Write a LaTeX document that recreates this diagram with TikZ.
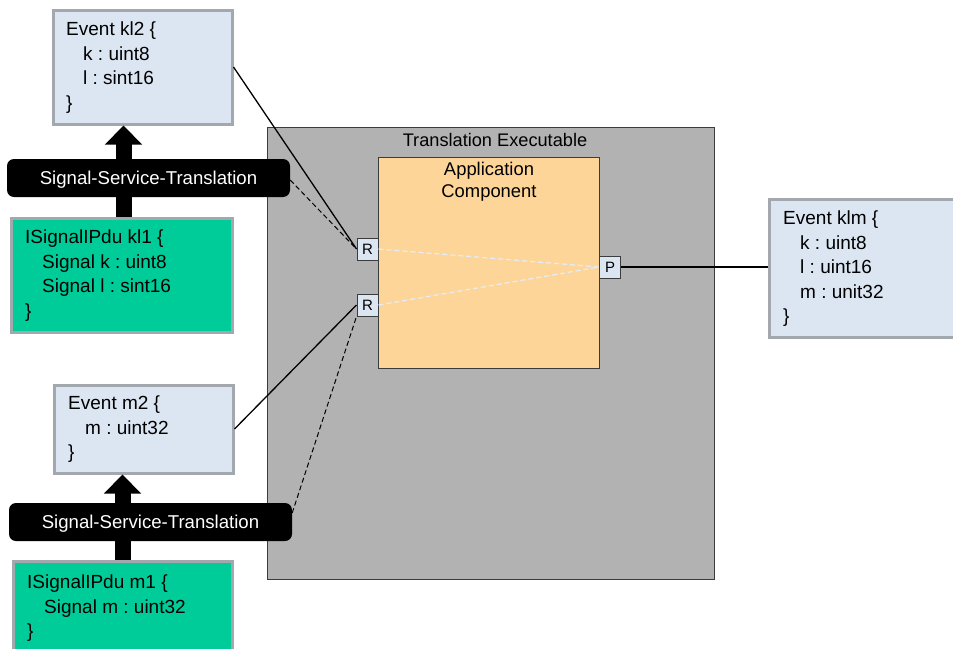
\documentclass[tikz,border=0pt]{standalone}
\usepackage{fontspec}
\setmainfont{Liberation Sans}
\usetikzlibrary{arrows.meta}
\definecolor{evfill}{HTML}{DCE6F2}
\definecolor{evborder}{HTML}{A3A8AE}
\definecolor{pdufill}{HTML}{00CC99}
\definecolor{exfill}{HTML}{B2B2B2}
\definecolor{exborder}{HTML}{3C3C3C}
\definecolor{appfill}{HTML}{FDD598}
\definecolor{wdash}{HTML}{E6EDF6}
\tikzset{
  evbox/.style={draw=evborder, line width=3pt, fill=evfill, anchor=north west, inner sep=0pt},
  pdubox/.style={draw=evborder, line width=3pt, fill=pdufill, anchor=north west, inner sep=0pt},
  txt/.style={anchor=north west, inner sep=0pt, align=left, font=\fontsize{19}{24.5}\selectfont},
  bar/.style={fill=black, rounded corners=7pt, text=white, minimum width=283pt, minimum height=38pt, inner sep=0pt, text height=13.3pt, text depth=0pt, font=\fontsize{18.6}{22}\selectfont},
  port/.style={draw=exborder, line width=1pt, fill=evfill, minimum width=21pt, minimum height=22pt, inner sep=0pt, font=\fontsize{15}{15}\selectfont},
  conn/.style={line width=1.3pt, black},
  dconn/.style={line width=1pt, black, dash pattern=on 5pt off 3pt},
  wconn/.style={line width=1.2pt, wdash, dash pattern=on 5pt off 3pt},
  bigarrow/.style={line width=16pt, -{Triangle[width=36pt,length=19pt]}}
}
\newcommand{\ind}{\hspace*{17pt}}
\begin{document}
\frenchspacing
\begin{tikzpicture}[x=1pt,y=-1pt]
\useasboundingbox (0,0) rectangle (953,648);
\clip (0,0) rectangle (953,648);

% Translation executable
\node[draw=exborder, line width=1.3pt, fill=exfill, anchor=north west, minimum width=447pt, minimum height=452pt, inner sep=0pt] (exec) at (267,127) {};
\node[font=\fontsize{18.2}{22}\selectfont, inner sep=0pt] (execlbl) at (495,140) {Translation Executable};

% Application component
\node[draw=exborder, line width=1pt, fill=appfill, anchor=north west, minimum width=221pt, minimum height=211pt, inner sep=0pt] (app) at (378,157) {};
\node[font=\fontsize{18.4}{22}\selectfont, align=center, inner sep=0pt] (applbl) at (489,182) {Application\\Component};

% ports
\node[port] (R1) at (367.5,249) {R};
\node[port] (R2) at (367.5,305) {R};
\node[port] (P) at (610,267) {P};
\draw[wconn] (R1.east) -- (P.west);
\draw[wconn] (R2.east) -- (P.west);

% boxes
\node[pdubox, minimum width=221pt, minimum height=114pt] (kl1) at (9.5,216.5) {};
\node[evbox, minimum width=179pt, minimum height=114pt] (kl2) at (51.5,8.5) {};
\node[evbox, minimum width=179pt, minimum height=88pt] (m2) at (52.5,383.5) {};
\node[pdubox, minimum width=219pt, minimum height=120pt] (m1) at (11.5,559.5) {};
\node[evbox, minimum width=200pt, minimum height=138pt] (klm) at (767.5,197.5) {};

% arrows
\draw[bigarrow] ([xshift=2pt]kl1.north) -- ([xshift=2pt]kl1.north |- kl2.south);
\draw[bigarrow] ([xshift=0pt]m1.north) -- ([xshift=0pt]m1.north |- m2.south);

% redraw boxes over arrow shafts
\node[pdubox, minimum width=221pt, minimum height=114pt] (kl1b) at (9.5,216.5) {};
\node[pdubox, minimum width=219pt, minimum height=120pt] (m1b) at (11.5,559.5) {};

% bars
\node[bar] (bar1) at (148.5,178) {Signal-Service-Translation};
\node[bar] (bar2) at (150.5,522) {Signal-Service-Translation};

% texts
\node[txt] (kl2t) at (66,22) {Event kl2 \{\\\ind k : uint8\\\ind l : sint16\\\}};
\node[txt] (kl1t) at (25,230) {ISignalIPdu kl1 \{\\\ind Signal k : uint8\\\ind Signal l : sint16\\\}};
\node[txt] (klmt) at (783,211) {Event klm \{\\\ind k : uint8\\\ind l : uint16\\\ind m : unit32\\\}};
\node[txt] (m2t) at (68,396) {Event m2 \{\\\ind m : uint32\\\}};
\node[txt] (m1t) at (27,575) {ISignalIPdu m1 \{\\\ind Signal m : uint32\\\}};

% connectors
\draw[conn] (kl2.east) -- (R1.west);
\draw[dconn] ([yshift=-2pt]bar1.east) -- (R1.west);
\draw[conn] (m2.east) -- (R2.west);
\draw[dconn] ([yshift=9pt]bar2.east) -- (R2.south west);
\draw[conn] (P.east) -- (klm.west |- P.east);
\end{tikzpicture}
\end{document}
